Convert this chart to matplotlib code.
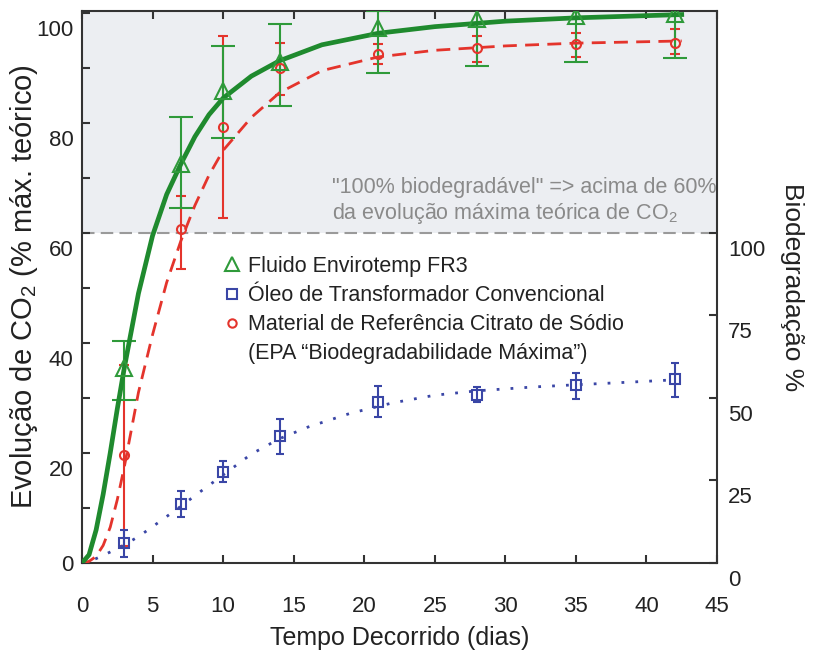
import matplotlib
matplotlib.use("Agg")
import matplotlib.pyplot as plt
from matplotlib import font_manager
from matplotlib.lines import Line2D
from matplotlib.transforms import ScaledTranslation
import numpy as np

# ---------------- data ----------------
days = [3, 7, 10, 14, 21, 28, 35, 42]

fr3 = [35.5, 72.6, 85.8, 91.0, 97.3, 98.9, 99.5, 99.8]
fr3_lo = [29.6, 64.6, 77.3, 83.0, 89.0, 90.4, 91.0, 91.8]
fr3_hi = [40.3, 81.0, 94.0, 98.0, 100.3, 100.6, 101.0, 101.6]

citrate = [19.6, 60.8, 79.2, 90.0, 92.5, 93.7, 94.4, 94.6]
citrate_lo = [3.0, 53.5, 62.8, 85.0, 90.7, 91.0, 92.0, 92.5]
citrate_hi = [36.0, 66.8, 95.8, 94.6, 94.3, 95.8, 96.4, 97.0]

mineral = [3.6, 10.7, 16.5, 23.0, 29.2, 30.6, 32.3, 33.4]
mineral_lo = [1.1, 8.3, 14.7, 19.8, 26.5, 29.2, 29.8, 30.1]
mineral_hi = [6.0, 13.1, 18.5, 26.1, 32.1, 32.0, 34.5, 36.3]

# fitted curves
fit_days = [0, 0.5, 1, 1.5, 2, 2.5, 3, 4, 5, 6, 7, 8, 9, 10, 12, 14, 17, 21, 25, 30, 35, 42.5]
fr3_fit = [0, 1.5, 6, 12.5, 20, 28, 35.5, 49, 59.5, 67, 72.5, 77.5, 81.5, 84.5, 88.5, 91.3,
           94.2, 96.3, 97.5, 98.5, 99.1, 99.7]
citrate_fit = [0, 0.3, 1.2, 3.2, 6.5, 11.5, 17.5, 31, 41.5, 51, 58.5, 65, 70.5, 75, 81, 85.5,
               89.5, 92, 93.2, 94, 94.5, 94.9]

mineral_fit_days = [0, 1, 2, 3, 4, 5, 7, 8.4, 10, 12, 14, 16, 19, 22, 25, 28, 32, 35, 39, 42]
mineral_fit = [0, 0.8, 2, 3.3, 4.8, 6.6, 10.3, 13, 16, 19.8, 22.6, 24.7, 27.2, 29.1, 30.5,
               31.3, 32, 32.4, 32.9, 33.3]

left_ticks = [0, 20, 40, 60, 80, 100]
right_ticks = [0, 25, 50, 75, 100]
x_ticks = [0, 5, 10, 15, 20, 25, 30, 35, 40, 45]

legend_labels = ["Fluido Envirotemp FR3",
                 "Óleo de Transformador Convencional",
                 "Material de Referência Citrato de Sódio",
                 "(EPA “Biodegradabilidade Máxima”)"]

# ---------------- fonts ----------------
avail = {f.name for f in font_manager.fontManager.ttflist}
narrow = "Liberation Sans Narrow" if "Liberation Sans Narrow" in avail else "Liberation Sans"
regular = "Liberation Sans"
plt.rcParams["font.family"] = [narrow, "DejaVu Sans"]
plt.rcParams["mathtext.fontset"] = "custom"
plt.rcParams["mathtext.rm"] = narrow
plt.rcParams["mathtext.it"] = narrow
plt.rcParams["mathtext.bf"] = narrow

GREEN = "#1f8a2e"
GREEN_EB = "#2f9a3a"
RED = "#e4342c"
BLUE = "#3a46a6"
SPINE = "#333333"
TXT = "#222222"

fig = plt.figure(figsize=(8.14, 6.54), dpi=100)
ax = fig.add_axes([82 / 814, 91 / 654, 635 / 814, 552.3 / 654])
YTOP = 100.4
ax.set_xlim(0, 45)
ax.set_ylim(0, YTOP)

# shaded region above 60 %
ax.axhspan(60, YTOP, color="#eceef2", zorder=0, lw=0)
ax.axhline(60, color="#9a9a9a", lw=1.5, ls=(0, (6, 3)), zorder=1)

# error bars
ax.errorbar(days, citrate,
            yerr=[np.subtract(citrate, citrate_lo), np.subtract(citrate_hi, citrate)],
            fmt="none", ecolor=RED, elinewidth=1.5, capsize=3.5, capthick=1.5, zorder=3)
ax.errorbar(days, fr3,
            yerr=[np.subtract(fr3, fr3_lo), np.subtract(fr3_hi, fr3)],
            fmt="none", ecolor=GREEN_EB, elinewidth=1.5, capsize=8.5, capthick=1.5, zorder=3)
ax.errorbar(days, mineral,
            yerr=[np.subtract(mineral, mineral_lo), np.subtract(mineral_hi, mineral)],
            fmt="none", ecolor=BLUE, elinewidth=1.5, capsize=3, capthick=1.5, zorder=3)

# fitted curves
ax.plot(mineral_fit_days, mineral_fit, color=BLUE, lw=2, ls=(0, (1, 4)), zorder=4)
ax.plot(fit_days, citrate_fit, color=RED, lw=2, ls=(0, (5, 3)), zorder=4)
ax.plot(fit_days, fr3_fit, color=GREEN, lw=3.4, zorder=5)

# markers
ax.plot(days, mineral, ls="none", marker="s", ms=7.5, mfc="none", mec=BLUE, mew=1.5, zorder=6)
ax.plot(days, citrate, ls="none", marker="o", ms=6.5, mfc="none", mec=RED, mew=1.5, zorder=6)
ax.plot(days, fr3, ls="none", marker="^", ms=11, mfc="none", mec=GREEN_EB, mew=1.5, zorder=6)

# annotation
ax.text(17.7, 65.7, "\"100% biodegradável\" => acima de 60%\nda evolução máxima teórica de CO$_2$",
        color="#8a8a8a", fontsize=15.5, va="center", ha="left", linespacing=1.15, zorder=2)

# legend
handles = [Line2D([], [], ls="none", marker="^", ms=10, mfc="none", mec=GREEN_EB, mew=1.5),
           Line2D([], [], ls="none", marker="s", ms=7, mfc="none", mec=BLUE, mew=1.5),
           Line2D([], [], ls="none", marker="o", ms=6, mfc="none", mec=RED, mew=1.5),
           Line2D([], [], ls="none")]
leg = ax.legend(handles, legend_labels, loc="upper left", bbox_to_anchor=(0.219, 0.556),
                frameon=False, fontsize=15.5, handlelength=1.0, handletextpad=0.25,
                borderpad=0, borderaxespad=0, labelspacing=0.38)
for t in leg.get_texts():
    t.set_color(TXT)

# axes styling
for s in ax.spines.values():
    s.set_color(SPINE)
    s.set_linewidth(1.5)
ax.set_xticks(x_ticks)
ax.set_yticks(left_ticks)
ax.set_yticks(np.arange(10, 100, 20), minor=True)
ax.tick_params(axis="x", which="both", direction="in", top=True, length=6, width=1.5,
               color=SPINE, labelsize=16, labelcolor=TXT, pad=24)
ax.tick_params(axis="y", which="both", direction="in", length=6, width=1.5,
               color=SPINE, labelsize=16, labelcolor=TXT, pad=6)
ax.set_xlabel("Tempo Decorrido (dias)", fontsize=18, color=TXT, labelpad=6)
ax.set_ylabel("Evolução de CO$_2$ (% máx. teórico)", fontsize=21, color=TXT,
              family=[regular, "DejaVu Sans"])
ax.yaxis.set_label_coords(-0.066, 0.5)

ax2 = ax.twinx()
ax2.set_ylim(0, YTOP / 0.6)
ax2.set_yticks(right_ticks)
ax2.tick_params(axis="y", direction="in", length=6, width=1.5, color=SPINE,
                labelsize=16, labelcolor=TXT, pad=8)
for s in ax2.spines.values():
    s.set_visible(False)
ax2.set_ylabel("Biodegradação %", fontsize=19, color=TXT, rotation=270,
               family=[regular, "DejaVu Sans"], labelpad=28)

fig.canvas.draw()
off = ScaledTranslation(0, -15 / 100, fig.dpi_scale_trans)
for lab in ax.get_yticklabels():
    if lab.get_text() != "0":
        lab.set_transform(lab.get_transform() + off)
for lab in ax2.get_yticklabels():
    lab.set_transform(lab.get_transform() + off)

fig.savefig("out.png", dpi=100, facecolor="white")
